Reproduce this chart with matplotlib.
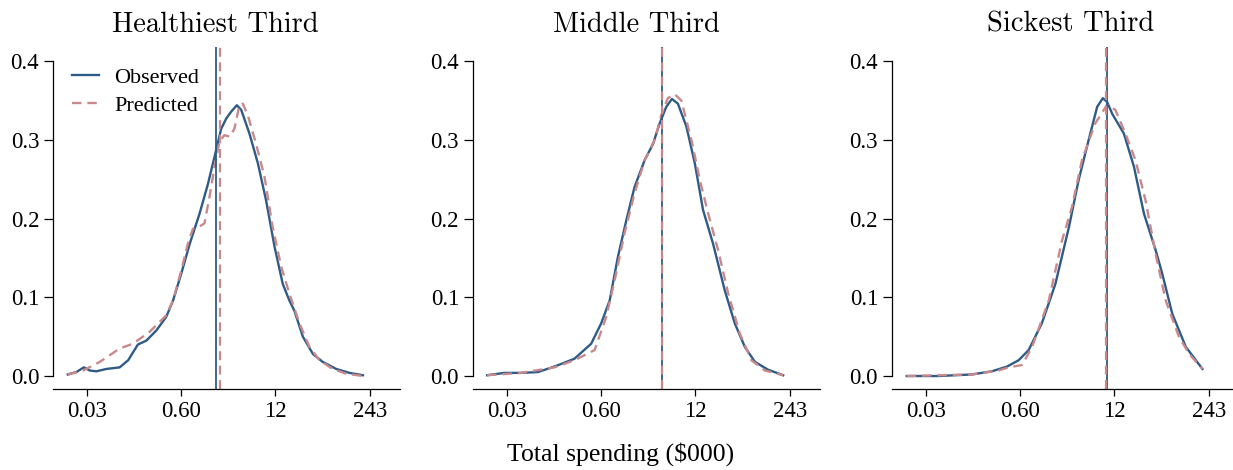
"""Observed vs predicted densities of log total spending, by health tercile."""
import numpy as np
import matplotlib
matplotlib.use("Agg")
import matplotlib.pyplot as plt

# x values are ln(total spending in $000)
healthy_obs_x = [-4.12, -3.85, -3.61, -3.42, -3.21, -2.89, -2.47, -2.20, -1.89, -1.62, -1.30,
                 -0.99, -0.77, -0.51, -0.24, 0.07, 0.34, 0.60, 0.76, 0.92, 1.08, 1.26, 1.40,
                 1.66, 1.93, 2.19, 2.46, 2.72, 2.93, 3.09, 3.36, 3.68, 3.99, 4.42, 4.84, 5.27]
healthy_obs_y = [0.002, 0.005, 0.011, 0.007, 0.006, 0.009, 0.011, 0.020, 0.040, 0.045, 0.058,
                 0.075, 0.096, 0.130, 0.168, 0.206, 0.244, 0.287, 0.314, 0.327, 0.336, 0.344, 0.338,
                 0.308, 0.270, 0.223, 0.164, 0.117, 0.096, 0.083, 0.050, 0.028, 0.018, 0.009, 0.004, 0.001]
healthy_pred_x = [-4.12, -3.63, -3.10, -2.47, -2.05, -1.52, -0.99, -0.77, -0.51, -0.30, -0.14,
                  0.07, 0.23, 0.39, 0.55, 0.70, 0.86, 1.04, 1.18, 1.34, 1.45, 1.61, 1.87, 2.14,
                  2.40, 2.67, 2.93, 3.25, 3.57, 3.89, 4.31, 4.73, 5.27]
healthy_pred_y = [0.002, 0.007, 0.018, 0.035, 0.041, 0.056, 0.077, 0.096, 0.134, 0.168, 0.187,
                  0.190, 0.194, 0.228, 0.266, 0.297, 0.306, 0.304, 0.314, 0.344, 0.346, 0.331, 0.295, 0.253,
                  0.189, 0.139, 0.105, 0.067, 0.037, 0.020, 0.009, 0.003, 0.000]

middle_obs_x = [-4.14, -3.59, -3.06, -2.53, -2.00, -1.36, -0.83, -0.51, -0.24, 0.02, 0.29, 0.55,
                0.87, 1.14, 1.35, 1.56, 1.74, 1.93, 2.20, 2.47, 2.73, 3.05, 3.42, 3.74, 4.06, 4.38,
                4.80, 5.28]
middle_obs_y = [0.001, 0.004, 0.004, 0.005, 0.012, 0.022, 0.041, 0.067, 0.096, 0.151, 0.198, 0.240,
                0.274, 0.295, 0.321, 0.342, 0.352, 0.346, 0.317, 0.270, 0.211, 0.168, 0.109, 0.067, 0.037, 0.018,
                0.008, 0.001]
middle_pred_x = [-4.14, -3.06, -2.00, -1.36, -0.72, -0.35, -0.08, 0.23, 0.55, 0.87, 1.19, 1.40,
                 1.61, 1.83, 2.04, 2.36, 2.63, 2.89, 3.21, 3.53, 3.90, 4.27, 4.70, 5.28]
middle_pred_y = [0.001, 0.004, 0.011, 0.020, 0.033, 0.075, 0.122, 0.181, 0.232, 0.274, 0.300, 0.331,
                 0.353, 0.358, 0.350, 0.300, 0.249, 0.207, 0.160, 0.105, 0.054, 0.020, 0.007, 0.001]

sick_obs_x = [-4.12, -3.11, -2.05, -1.41, -0.93, -0.56, -0.24, 0.18, 0.61, 1.04, 1.35, 1.67,
              1.94, 2.12, 2.26, 2.42, 2.79, 3.11, 3.43, 3.80, 4.01, 4.33, 4.76, 5.29]
sick_obs_y = [0.000, 0.000, 0.002, 0.006, 0.012, 0.020, 0.033, 0.067, 0.117, 0.189, 0.249, 0.300,
              0.342, 0.353, 0.348, 0.333, 0.308, 0.266, 0.206, 0.160, 0.130, 0.079, 0.037, 0.009]
sick_pred_x = [-4.12, -2.05, -1.20, -0.88, -0.45, -0.13, 0.40, 0.82, 1.14, 1.46, 1.88, 2.26,
               2.52, 2.84, 3.16, 3.48, 3.80, 4.12, 4.54, 4.87, 5.29]
sick_pred_y = [0.000, 0.002, 0.007, 0.011, 0.014, 0.037, 0.096, 0.172, 0.215, 0.275, 0.321, 0.345,
               0.338, 0.308, 0.274, 0.223, 0.155, 0.096, 0.050, 0.028, 0.009]

titles = ["Healthiest Third", "Middle Third", "Sickest Third"]
mean_obs = [0.60, 1.42, 2.24]
mean_pred = [0.73, 1.42, 2.23]
tick_labels = ["0.03", "0.60", "12", "243"]
tick_values = [0.03, 0.60, 12, 243]

BLUE = "#2f5b86"
ROSE = "#c8898d"

plt.rcParams["font.family"] = ["Liberation Serif", "DejaVu Serif"]
plt.rcParams["font.size"] = 16

fig = plt.figure(figsize=(12.33, 4.70), dpi=100)
lefts = [0.043, 0.3836, 0.7234]
title_x = [0.467, 0.47, 0.514]
curves = [
    (healthy_obs_x, healthy_obs_y, healthy_pred_x, healthy_pred_y),
    (middle_obs_x, middle_obs_y, middle_pred_x, middle_pred_y),
    (sick_obs_x, sick_obs_y, sick_pred_x, sick_pred_y),
]

for i, (ox, oy, px, py) in enumerate(curves):
    ax = fig.add_axes([lefts[i], 0.1723, 0.2814, 0.7277])
    ax.plot(ox, oy, color=BLUE, lw=1.7, label="Observed")
    ax.plot(px, py, color=ROSE, lw=1.7, ls=(0, (4, 2.5)), label="Predicted")
    ax.axvline(mean_obs[i], color=BLUE, lw=1.3)
    ax.axvline(mean_pred[i], color=ROSE, lw=1.6, ls=(0, (4, 2.5)))

    ax.set_xlim(-4.59, 6.45)
    ax.set_ylim(-0.0165, 0.418)
    ax.set_xticks(np.log(tick_values))
    ax.set_xticklabels(tick_labels)
    ax.set_yticks([0.0, 0.1, 0.2, 0.3, 0.4])
    ax.set_yticklabels(["0.0", "0.1", "0.2", "0.3", "0.4"])
    ax.tick_params(axis="x", length=5, width=0.9, pad=3.5, labelsize=16.5)
    ax.tick_params(axis="y", length=6.5, width=0.9, pad=3.5, labelsize=16.5)
    for s in ("top", "right"):
        ax.spines[s].set_visible(False)
    ax.spines["left"].set_bounds(0, 0.4)
    ax.spines["left"].set_linewidth(0.9)
    ax.spines["bottom"].set_linewidth(0.9)
    ax.set_title(titles[i], family="cmr10", fontsize=20.5, x=title_x[i], pad=11)

    if i == 0:
        ax.legend(loc="upper left", bbox_to_anchor=(0.055, 0.94), frameon=False,
                  borderaxespad=0, borderpad=0, handlelength=1.2,
                  handletextpad=0.7, labelspacing=0.33, fontsize=16)

fig.text(0.503, 0.019, "Total spending ($000)", ha="center", va="baseline", fontsize=18.5)
fig.savefig("out.png", dpi=100)
